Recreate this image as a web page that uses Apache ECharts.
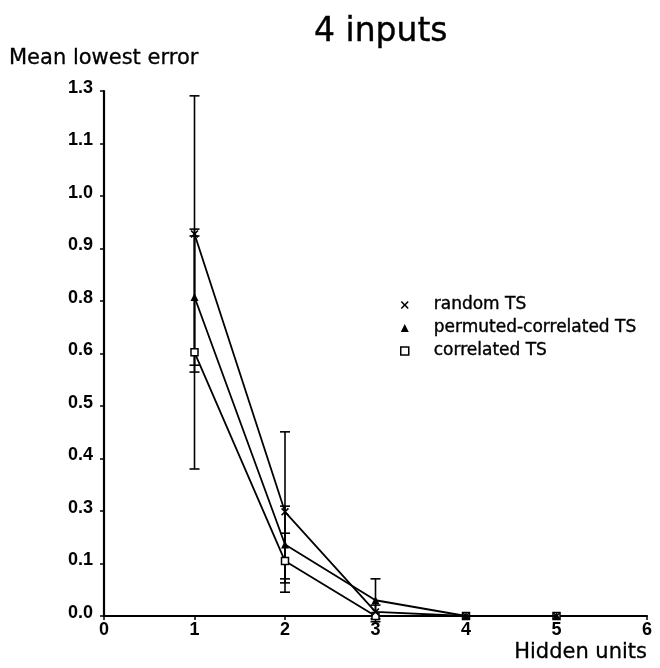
<!DOCTYPE html>
<html>
<head>
<meta charset="utf-8">
<script src="https://cdn.jsdelivr.net/npm/echarts@6/dist/echarts.min.js"></script>
<style>
  html, body { margin: 0; padding: 0; background: #fff; }
  #chart { width: 660px; height: 668px; }
</style>
</head>
<body>
<div id="chart"></div>
<script>
// Hidden units on the x axis
const hiddenUnits = [1, 2, 3, 4, 5];

// Mean lowest error for each training set, with the ends of its error bar
const randomTS = [0.946, 0.258, 0.010, 0, 0];
const randomLow = [0.604, 0.059, -0.007, 0, 0];
const randomHigh = [1.288, 0.456, 0.027, 0, 0];

const permutedTS = [0.790, 0.177, 0.039, 0, 0];
const permutedLow = [0.621, 0.082, -0.014, 0, 0];
const permutedHigh = [0.958, 0.272, 0.092, 0, 0];

const correlatedTS = [0.653, 0.136, 0, 0, 0];
const correlatedLow = [0.364, 0.092, 0, 0, 0];
const correlatedHigh = [0.941, 0.205, 0, 0, 0];

// Tick labels as printed on the vertical axis
const yTickLabels = ['0.0', '0.1', '0.3', '0.4', '0.5', '0.6', '0.8', '0.9', '1.0', '1.1', '1.3'];
const xTickLabels = ['0', '1', '2', '3', '4', '5', '6'];

const seriesNames = ['random TS', 'permuted-correlated TS', 'correlated TS'];

const crossPath = 'path://M0,1.4L1.4,0L5,3.6L8.6,0L10,1.4L6.4,5L10,8.6L8.6,10L5,6.4L1.4,10L0,8.6L3.6,5Z';

function pairs(xs, ys) { return xs.map((x, i) => [x, ys[i]]); }
function bars(xs, lo, hi) { return xs.map((x, i) => [x, lo[i], hi[i]]); }

function renderErrorBar(params, api) {
  const x = api.value(0);
  const lo = api.coord([x, api.value(1)]);
  const hi = api.coord([x, api.value(2)]);
  const hw = 5;
  const style = { stroke: '#000', lineWidth: 1.6, fill: null };
  return {
    type: 'group',
    children: [
      { type: 'line', shape: { x1: lo[0], y1: lo[1], x2: hi[0], y2: hi[1] }, style },
      { type: 'line', shape: { x1: lo[0] - hw, y1: lo[1], x2: lo[0] + hw, y2: lo[1] }, style },
      { type: 'line', shape: { x1: hi[0] - hw, y1: hi[1], x2: hi[0] + hw, y2: hi[1] }, style }
    ]
  };
}

function lineSeries(name, values, symbol, size, itemStyle, z) {
  return {
    name, type: 'line', data: pairs(hiddenUnits, values),
    symbol, symbolSize: size, showAllSymbol: true,
    lineStyle: { color: '#000', width: 1.8 },
    itemStyle, z, clip: false, animation: false
  };
}

function errorSeries(name, lo, hi) {
  return {
    name, type: 'custom', data: bars(hiddenUnits, lo, hi),
    renderItem: renderErrorBar, z: 2, clip: false, animation: false,
    encode: { x: 0, y: [1, 2] }
  };
}

const tickFont = { fontFamily: 'Liberation Sans', fontWeight: 'bold', fontSize: 18, color: '#000' };

const chart = echarts.init(document.getElementById('chart'), null, { renderer: 'canvas' });

chart.setOption({
  backgroundColor: '#fff',
  animation: false,
  textStyle: { fontFamily: 'DejaVu Sans', color: '#000' },
  title: [
    {
      text: '4 inputs', left: 309, top: 11,
      textStyle: { fontFamily: 'DejaVu Sans', fontSize: 33, fontWeight: 'normal', color: '#000',
        textBorderColor: '#000', textBorderWidth: 0.4 }
    },
    {
      text: 'Mean lowest error', left: 4, top: 43,
      textStyle: { fontFamily: 'DejaVu Sans', fontSize: 21, fontWeight: 'normal', color: '#000',
        textBorderColor: '#000', textBorderWidth: 0.3 }
    }
  ],
  grid: { left: 104, right: 13, top: 91, bottom: 52, containLabel: false },
  legend: {
    orient: 'vertical', left: 395, top: 290,
    itemWidth: 8, itemHeight: 8, itemGap: 3,
    selectedMode: false,
    textStyle: {
      fontFamily: 'DejaVu Sans', fontSize: 17, color: '#000', lineHeight: 20,
      padding: [0, 0, 0, 20], textBorderColor: '#000', textBorderWidth: 0.4
    },
    data: [
      { name: seriesNames[0], icon: crossPath, itemStyle: { color: '#000' } },
      { name: seriesNames[1], icon: 'triangle', itemStyle: { color: '#000' } },
      { name: seriesNames[2], icon: 'rect', itemStyle: { color: '#fff', borderColor: '#000', borderWidth: 1.5 } }
    ]
  },
  xAxis: {
    type: 'value', min: 0, max: 6, interval: 1,
    name: 'Hidden units', nameLocation: 'end', nameGap: 0,
    nameTextStyle: {
      fontFamily: 'DejaVu Sans', fontSize: 21, color: '#000',
      align: 'right', verticalAlign: 'top', padding: [26, 0, 0, 0],
      textBorderColor: '#000', textBorderWidth: 0.3
    },
    axisLine: { show: true, lineStyle: { color: '#000', width: 2.2 } },
    axisTick: { show: true, length: 4, lineStyle: { color: '#000', width: 1.5 } },
    axisLabel: Object.assign({ margin: 5, formatter: (v) => xTickLabels[Math.round(v)] }, tickFont),
    splitLine: { show: false }
  },
  yAxis: {
    type: 'value', min: 0, max: 1.3, interval: 0.13,
    axisLine: { show: true, lineStyle: { color: '#000', width: 2.2 } },
    axisTick: { show: true, length: 4, lineStyle: { color: '#000', width: 1.5 } },
    axisLabel: Object.assign({
      margin: 11, verticalAlign: 'bottom', lineHeight: 6,
      formatter: (v) => yTickLabels[Math.round(v / 0.13)]
    }, tickFont),
    splitLine: { show: false }
  },
  series: [
    errorSeries(seriesNames[0], randomLow, randomHigh),
    errorSeries(seriesNames[1], permutedLow, permutedHigh),
    errorSeries(seriesNames[2], correlatedLow, correlatedHigh),
    lineSeries(seriesNames[2], correlatedTS, 'rect', 7, { color: '#fff', borderColor: '#000', borderWidth: 1.5 }, 3),
    lineSeries(seriesNames[1], permutedTS, 'triangle', 8, { color: '#000' }, 4),
    lineSeries(seriesNames[0], randomTS, crossPath, 8, { color: '#000' }, 5)
  ]
});
</script>
</body>
</html>
